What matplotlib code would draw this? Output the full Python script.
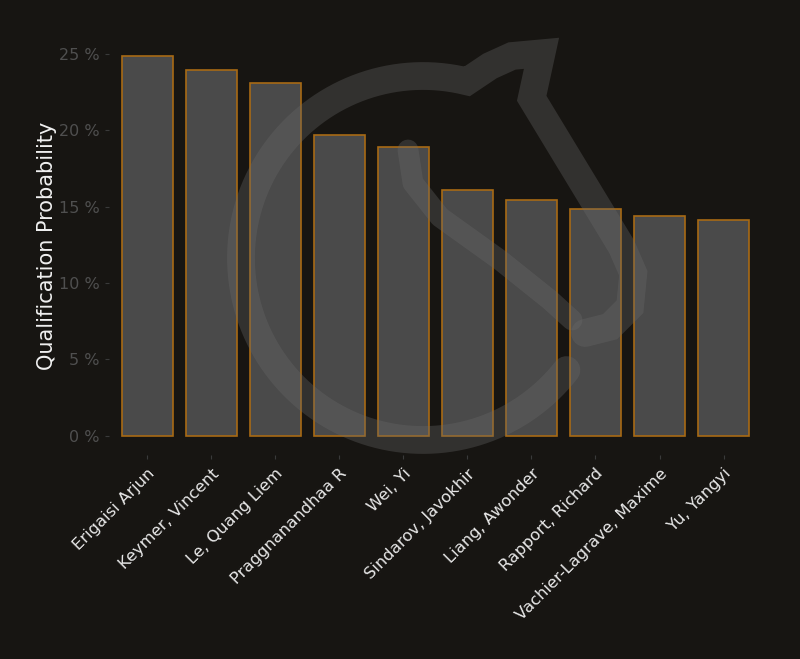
import matplotlib
matplotlib.use('Agg')
import numpy as np
import matplotlib.pyplot as plt
from matplotlib.path import Path
from matplotlib.patches import PathPatch

players = ['Erigaisi Arjun', 'Keymer, Vincent', 'Le, Quang Liem', 'Praggnanandhaa R',
           'Wei, Yi', 'Sindarov, Javokhir', 'Liang, Awonder', 'Rapport, Richard',
           'Vachier-Lagrave, Maxime', 'Yu, Yangyi']
prob = [24.85, 23.9, 23.1, 19.7, 18.9, 16.1, 15.45, 14.85, 14.35, 14.1]
yticks = [0, 5, 10, 15, 20, 25]

bg = '#171512'
fig = plt.figure(figsize=(8, 6.59), dpi=100, facecolor=bg)
ax = fig.add_axes([0.136, 0.3096, 0.8165, 0.6344])
ax.set_facecolor(bg)

x = np.arange(len(players))
ax.bar(x, prob, width=0.8, color='#4a4a4a', edgecolor='#a86a14', linewidth=1.2, zorder=2)

ax.set_xlim(-0.6, len(players) - 0.4)
ax.set_ylim(-0.05 * max(prob), 1.05 * max(prob))
ax.set_yticks(yticks)
ax.set_yticklabels(['%d %%' % t for t in yticks], fontsize=11.5)
ax.set_xticks(x)
ax.set_xticklabels(players, rotation=45, ha='right', rotation_mode='anchor', fontsize=11.8)
ax.tick_params(axis='both', colors='#3a3a3a', length=3, width=0.8)
ax.tick_params(axis='x', pad=5)
for lab in ax.get_yticklabels():
    lab.set_color('#4f4f4f')
for lab in ax.get_xticklabels():
    lab.set_color('#e8e8e8')
for s in ax.spines.values():
    s.set_visible(False)
ax.set_ylabel('Qualification Probability', color='#f0f0f0', fontsize=15, labelpad=1.5)

# faint logo watermark over the panel (figure pixel coords)
def px(xp, yp):
    return (xp / 800.0, 1 - yp / 659.0)

cx, cy, r = 423, 258, 182
t = np.radians(np.linspace(322, 76, 120))
outline = [px(cx + r * np.cos(a), cy - r * np.sin(a)) for a in t]
outline += [px(490, 66), px(512, 56), px(541.5, 53.3), px(531.7, 98.3),
            px(621.7, 246.7), px(633.3, 273.3), px(630, 306.7), px(610, 326.7),
            px(585, 333)]
s_curve = [px(408, 150), px(413, 183), px(440, 217), px(500, 260), px(550, 300),
           px(572, 320)]

wm = dict(transform=fig.transFigure, facecolor='none', edgecolor='#6b6b6b',
          alpha=0.33, zorder=5, capstyle='round')
fig.patches.append(PathPatch(Path(outline), linewidth=20, joinstyle='miter', **wm))
fig.patches.append(PathPatch(Path(s_curve), linewidth=15, joinstyle='round', **wm))

plt.savefig('out.png', dpi=100, facecolor=bg)
